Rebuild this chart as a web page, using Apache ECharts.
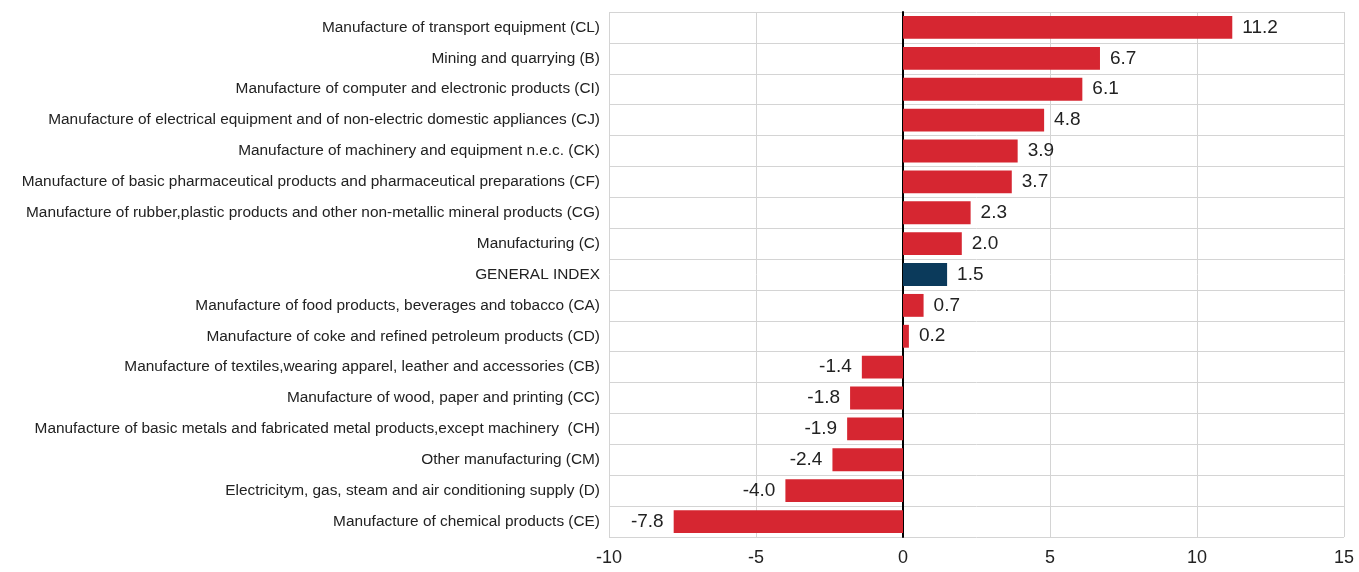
<!DOCTYPE html>
<html>
<head>
<meta charset="utf-8">
<script src="https://cdn.jsdelivr.net/npm/echarts@6/dist/echarts.min.js"></script>
<style>
html, body { margin: 0; padding: 0; background: #fff; }
#chart { width: 1359px; height: 572px; }
</style>
</head>
<body>
<div id="chart"></div>
<script>
var categories = [
    "Manufacture of transport equipment (CL)",
    "Mining and quarrying (B)",
    "Manufacture of computer and electronic products (CI)",
    "Manufacture of electrical equipment and of non-electric domestic appliances (CJ)",
    "Manufacture of machinery and equipment n.e.c. (CK)",
    "Manufacture of basic pharmaceutical products and pharmaceutical preparations (CF)",
    "Manufacture of rubber,plastic products and other non-metallic mineral products (CG)",
    "Manufacturing (C)",
    "GENERAL INDEX",
    "Manufacture of food products, beverages and tobacco (CA)",
    "Manufacture of coke and refined petroleum products (CD)",
    "Manufacture of textiles,wearing apparel, leather and accessories (CB)",
    "Manufacture of wood, paper and printing (CC)",
    "Manufacture of basic metals and fabricated metal products,except machinery  (CH)",
    "Other manufacturing (CM)",
    "Electricitym, gas, steam and air conditioning supply (D)",
    "Manufacture of chemical products (CE)"
];
var values = [11.2, 6.7, 6.1, 4.8, 3.9, 3.7, 2.3, 2.0, 1.5, 0.7, 0.2, -1.4, -1.8, -1.9, -2.4, -4.0, -7.8];
var highlight = "GENERAL INDEX";

var fontFam = "'Liberation Sans', Arial, sans-serif";
var red = "#d62631";
var navy = "#0b3a5b";

var barData = [];
for (var i = 0; i < values.length; i++) {
    barData.push({
        value: values[i],
        itemStyle: { color: categories[i] == highlight ? navy : red },
        label: { position: values[i] < 0 ? "left" : "right" }
    });
}

var myChart = echarts.init(document.getElementById("chart"));
myChart.setOption({
    animation: false,
    grid: { left: 609, right: 15, top: 12, bottom: 35, containLabel: false },
    xAxis: {
        type: "value",
        min: -10, max: 15, interval: 5,
        axisLine: { show: false },
        axisTick: { show: false },
        splitLine: { lineStyle: { color: "#d4d4d4", width: 1 } },
        axisLabel: { fontFamily: fontFam, fontSize: 18, color: "#222", margin: 12 }
    },
    yAxis: {
        type: "category",
        inverse: true,
        data: categories,
        axisLine: { onZero: true, lineStyle: { color: "#000", width: 2 } },
        axisTick: { show: false },
        splitLine: { show: true, lineStyle: { color: "#d4d4d4", width: 1 } },
        boundaryGap: true,
        axisLabel: { fontFamily: fontFam, fontSize: 15.4, color: "#222", margin: 9 }
    },
    series: [{
        type: "bar",
        data: barData,
        barCategoryGap: "26%",
        label: {
            show: true,
            fontFamily: fontFam,
            fontSize: 19,
            color: "#222",
            distance: 10,
            formatter: function (p) { return p.value.toFixed(1); }
        }
    }]
});
</script>
</body>
</html>
